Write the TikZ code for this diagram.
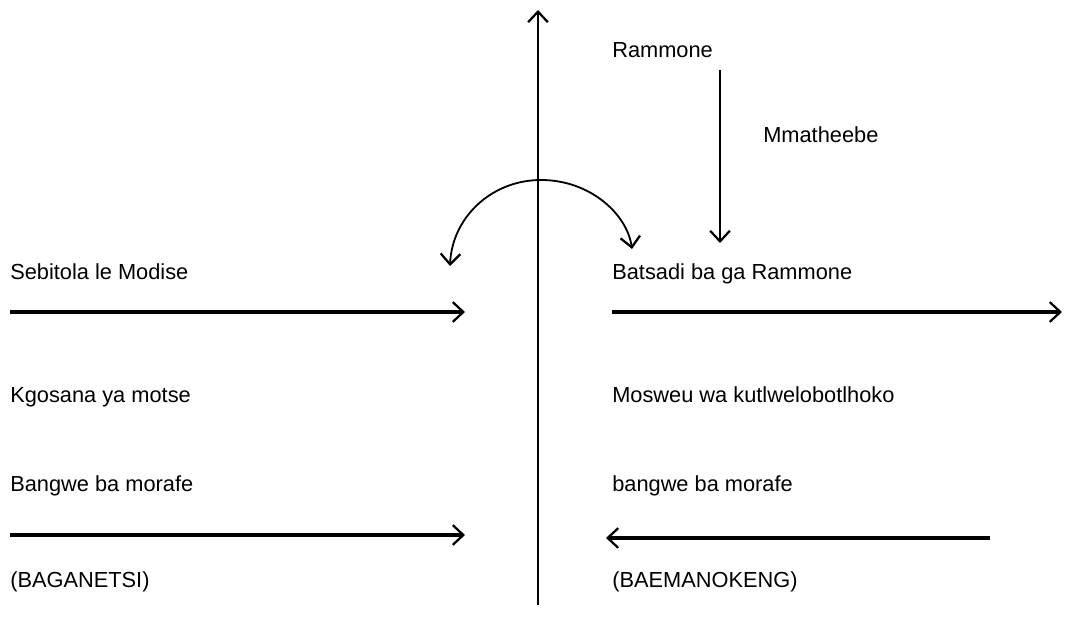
\documentclass[tikz,border=0pt]{standalone}
\usepackage{fontspec}
\setmainfont{Liberation Sans}
\usetikzlibrary{arrows.meta,positioning}

\begin{document}
\begin{tikzpicture}[x=0.025cm,y=-0.025cm,
    lbl/.style={anchor=base west,inner sep=0pt,font=\fontsize{15.5}{18}\selectfont},
    barb/.style={-{Straight Barb[length=7.5pt,width=14pt,line width=1.6pt]}},
    thickarr/.style={barb,line width=2.3pt},
    thinarr/.style={barb,line width=1.3pt}]
    \useasboundingbox (0,0) rectangle (1067,622);

    % central axis
    \coordinate (axbot) at (538,605);
    \coordinate (axtop) at (538,10);
    \draw[thinarr] (axbot) -- (axtop);

    % arc over the axis
    \coordinate (arcl) at (450,266);
    \coordinate (arcm) at (541,180);
    \coordinate (arcr) at (632,249);
    \draw[thinarr] (arcm) .. controls (491,180) and (452,218) .. (arcl);
    \draw[thinarr] (arcm) .. controls (590,180) and (627,214) .. (arcr);

    % right column, top
    \node[lbl] (ramm) at (612,58) {Rammone};
    \node[lbl] (mmat) at (763,143) {Mmatheebe};
    \coordinate (rtop) at (720,70);
    \coordinate (rbot) at (720,243);
    \draw[thinarr] (rtop) -- (rbot);

    % first row
    \node[lbl] (sebi) at (10,280) {Sebitola le Modise};
    \node[lbl] (bats) at (612,280) {Batsadi ba ga Rammone};
    \coordinate (l1a) at (10,312);
    \coordinate (l1b) at (465,312);
    \coordinate (r1a) at (612,312);
    \coordinate (r1b) at (1062,312);
    \draw[thickarr] (l1a) -- (l1b);
    \draw[thickarr] (r1a) -- (r1b);

    % second row
    \node[lbl] (kgos) at (10,403) {Kgosana ya motse};
    \node[lbl] (mosw) at (612,403) {Mosweu wa kutlwelobotlhoko};

    % third row
    \node[lbl] (bang) at (10,492) {Bangwe ba morafe};
    \node[lbl] (bangr) at (612,492) {bangwe ba morafe};
    \coordinate (l2a) at (10,535);
    \coordinate (l2b) at (465,535);
    \coordinate (r2a) at (990,538);
    \coordinate (r2b) at (606,538);
    \draw[thickarr] (l2a) -- (l2b);
    \draw[thickarr] (r2a) -- (r2b);

    % bottom labels
    \node[lbl] (bagan) at (10,587) {(BAGANETSI)};
    \node[lbl] (baem) at (612,587) {(BAEMANOKENG)};
\end{tikzpicture}
\end{document}
